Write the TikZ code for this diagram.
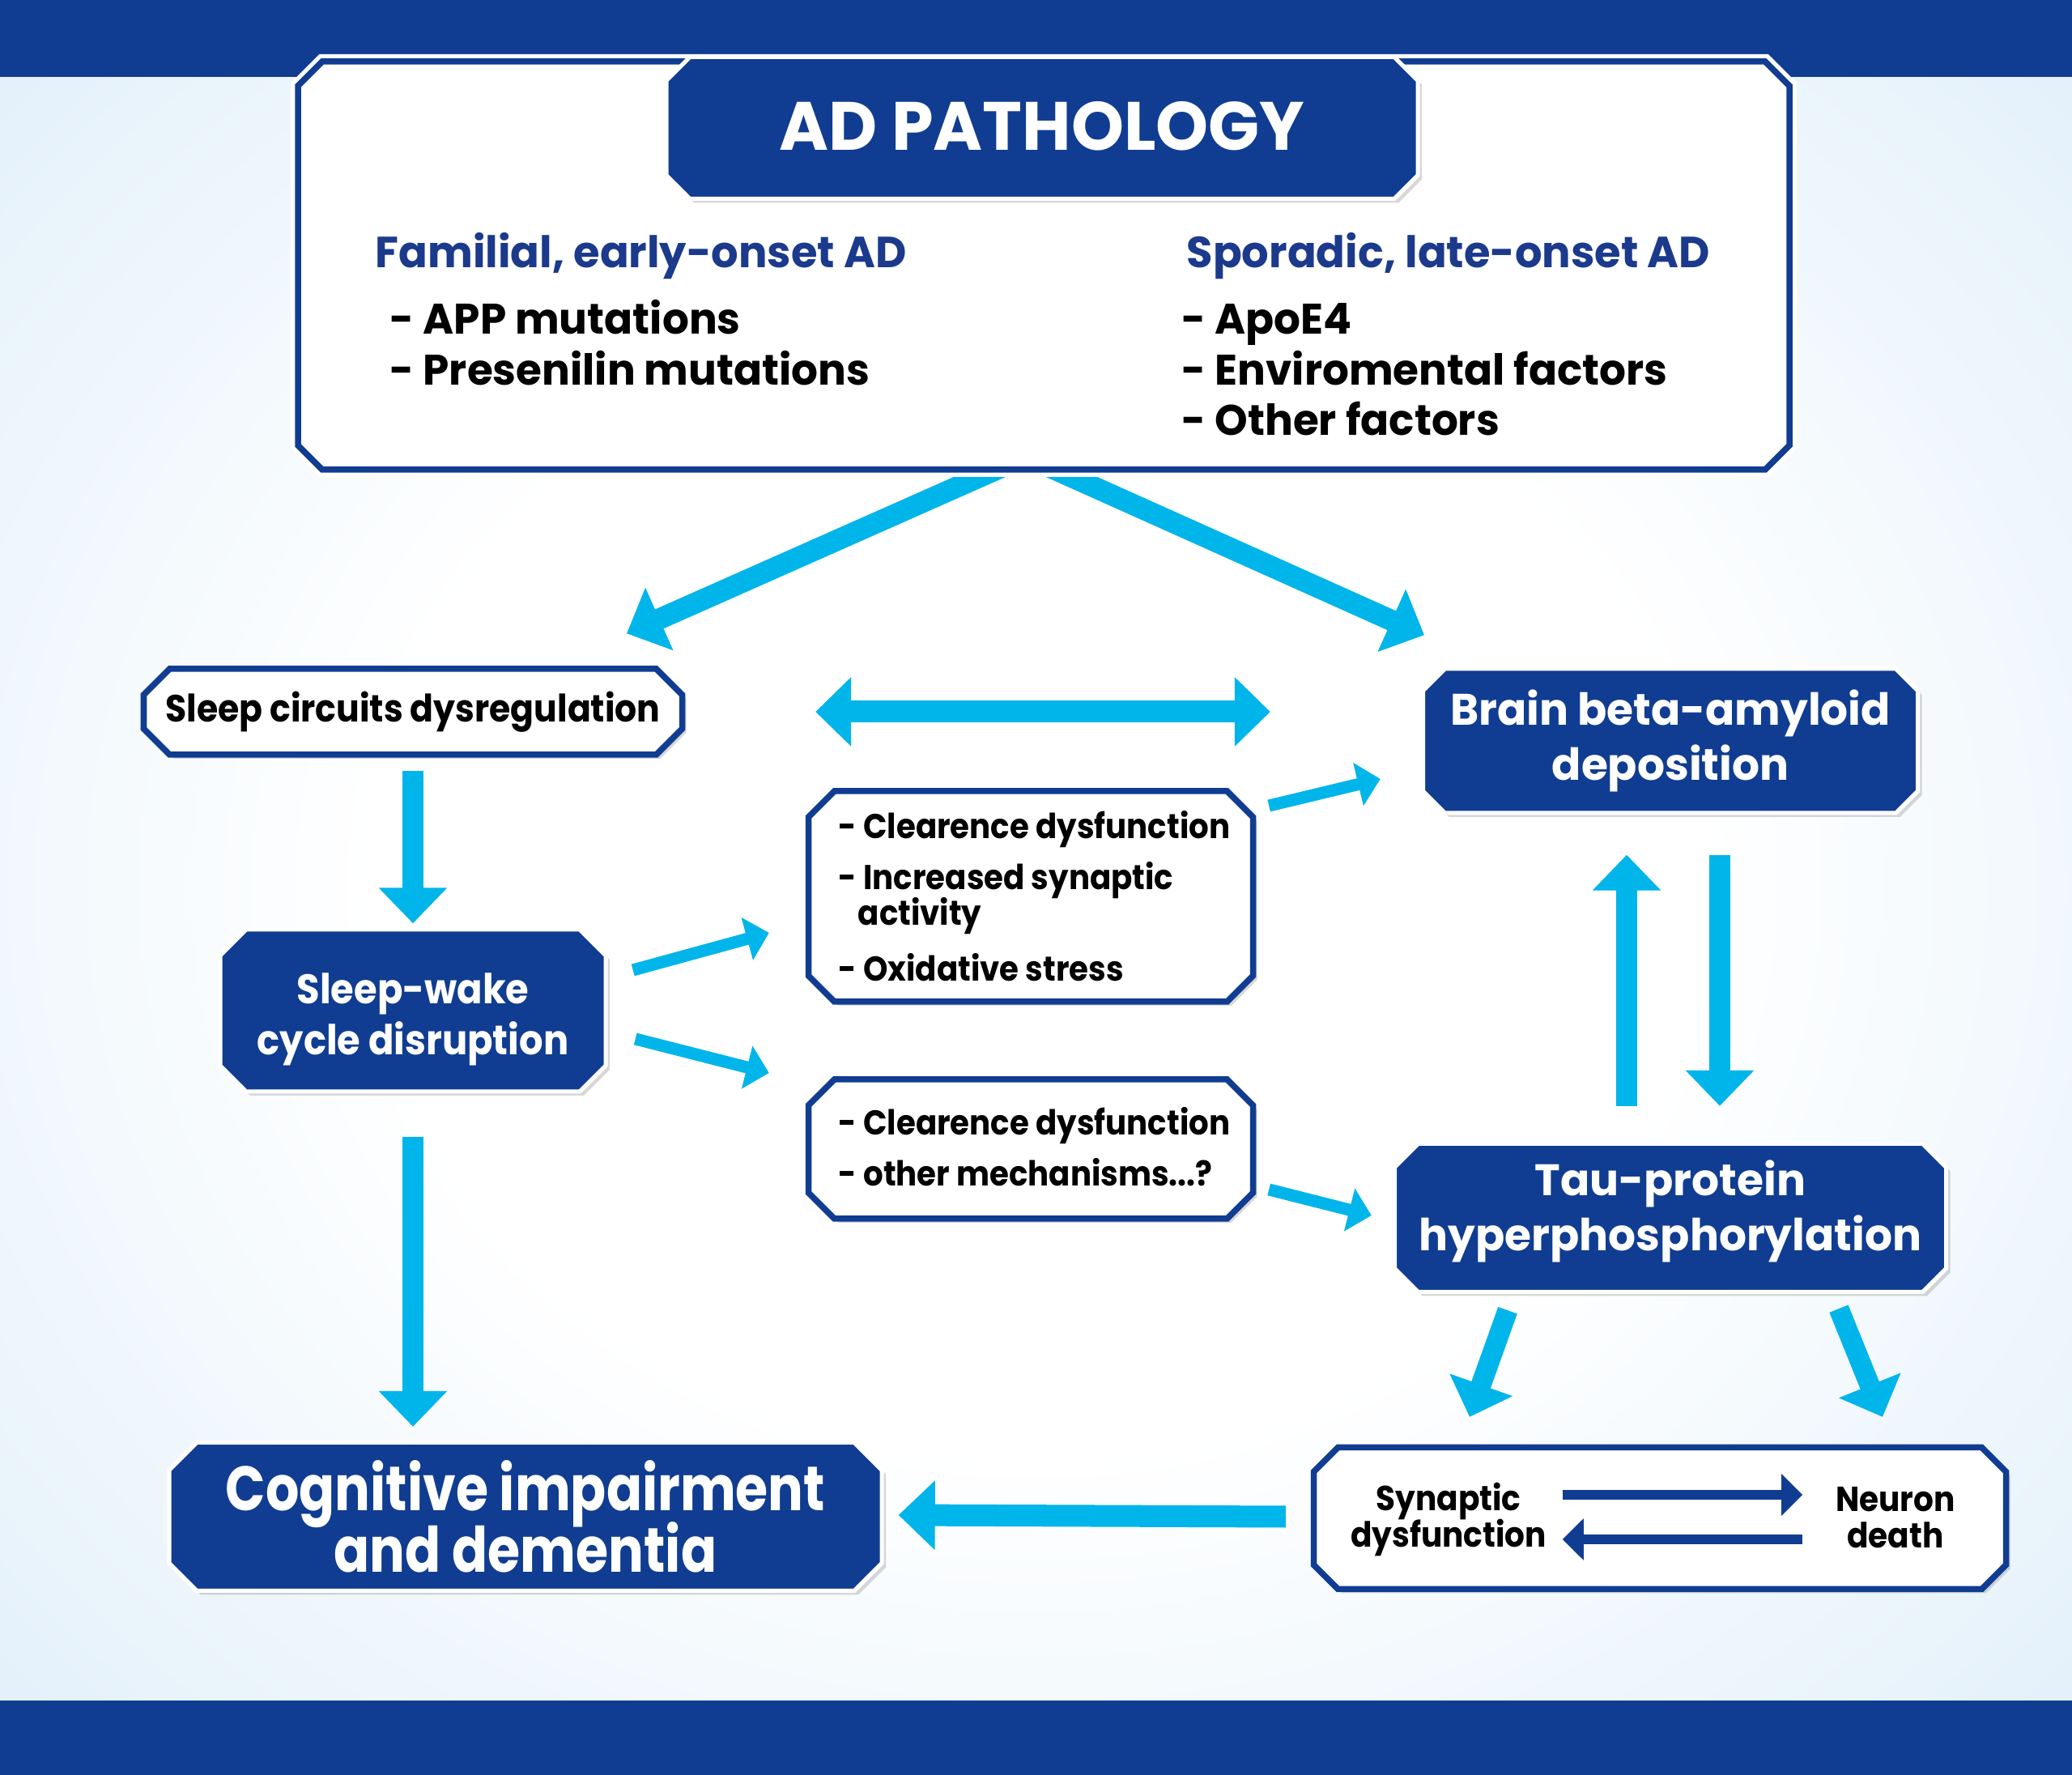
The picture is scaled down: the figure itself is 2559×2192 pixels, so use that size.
\documentclass[tikz,border=0pt]{standalone}
\usepackage{fontspec}
\newfontfamily\pfW{Poppins}[FakeStretch=0.98]
\newfontfamily\pfM{Poppins}[FakeStretch=0.91]
\newfontfamily\pfN{Poppins}[FakeStretch=0.84]
\usetikzlibrary{arrows.meta,shadows,calc}
\definecolor{dblue}{HTML}{103D91}
\definecolor{lblue}{HTML}{00B5EA}
\definecolor{bgl}{HTML}{CBE4F6}
\definecolor{bgl2}{HTML}{C0DCF2}
\definecolor{hblue}{HTML}{1B3A8C}
\pgfdeclareradialshading{bgshade}{\pgfpoint{0bp}{0bp}}{color(0bp)=(white); color(16bp)=(white); color(50bp)=(bgl); color(72bp)=(bgl2)}
\pgfdeclarelayer{bglayer}
\pgfdeclarelayer{arrlayer}
\pgfsetlayers{bglayer,arrlayer,main}
\newcommand\fs[2]{\fontsize{#1}{#2}\selectfont\lineskiplimit=-50pt\relax}
\tikzset{
  shad/.style={drop shadow={shadow xshift=0.05cm, shadow yshift=-0.05cm, opacity=0.3}},
  bluepath/.style={shad, fill=dblue, draw=white, line width=0.05cm},
  whitepath/.style={shad, fill=white, draw=dblue, line width=0.075cm},
  boxnode/.style={inner sep=0pt, align=center},
  bigarrow/.style={draw=lblue, line width=0.26cm, -{Triangle[width=0.82cm,length=0.44cm]}},
  bigdouble/.style={draw=lblue, line width=0.27cm, {Triangle[width=0.83cm,length=0.44cm]}-{Triangle[width=0.83cm,length=0.44cm]}},
  leftarrow/.style={draw=lblue, line width=0.27cm, -{Triangle[width=0.83cm,length=0.45cm]}},
  midarrow/.style={draw=lblue, line width=0.25cm, -{Triangle[width=0.80cm,length=0.42cm]}},
  smallarrow/.style={draw=lblue, line width=0.15cm, -{Triangle[width=0.53cm,length=0.28cm]}},
  darkarrow/.style={draw=dblue, line width=0.12cm, -{Triangle[width=0.5cm,length=0.26cm]}},
  txt/.style={inner sep=0pt, anchor=base west},
  ftitle/.style={font={\pfW\bfseries\fs{24}{28}}, text=white},
  fhdr/.style={font={\pfW\bfseries\fs{15.3}{18}}, text=hblue},
  fbody/.style={font={\pfW\bfseries\fs{15}{18}}},
  fcirc/.style={font={\pfM\bfseries\fs{13.3}{16}}},
  fwake/.style={font={\pfM\bfseries\fs{14.5}{18}}, text=white},
  fblue/.style={font={\pfW\bfseries\fs{15.5}{19.5}}, text=white},
  fcog/.style={font={\pfN\bfseries\fs{22}{21.6}}, text=white},
  fmid/.style={font={\pfM\bfseries\fs{12.1}{14}}},
  fsmall/.style={font={\pfM\bfseries\fs{12.2}{12.8}}},
}
% #1 path style, #2 node style, #3 name, #4 cx, #5 cy, #6 width, #7 height, #8 chamfer, #9 text
\newcommand\cbox[9]{%
  \path[#1] ({#4-#6/2+#8},{#5-#7/2}) -- ({#4+#6/2-#8},{#5-#7/2}) -- ({#4+#6/2},{#5-#7/2+#8})
    -- ({#4+#6/2},{#5+#7/2-#8}) -- ({#4+#6/2-#8},{#5+#7/2}) -- ({#4-#6/2+#8},{#5+#7/2})
    -- ({#4-#6/2},{#5+#7/2-#8}) -- ({#4-#6/2},{#5-#7/2+#8}) -- cycle;
  \node[boxnode, minimum width={#6*0.01cm}, minimum height={#7*0.01cm}, #2] (#3) at (#4,#5) {#9};
}
\begin{document}
\begin{tikzpicture}[x=0.01cm,y=-0.01cm]
\useasboundingbox (0,0) rectangle (2559,2192);
\begin{pgfonlayer}{bglayer}
\fill[shading=bgshade] (0,0) rectangle (2559,2192);
\fill[dblue] (0,0) rectangle (2559,95);
\fill[dblue] (0,2100) rectangle (2559,2192);
\end{pgfonlayer}

% boxes
\cbox{whitepath, preaction={draw=white, line width=0.18cm}}{}{topbox}{1289}{328}{1842}{504}{30}{}
\cbox{bluepath}{ftitle, yshift=0.02cm}{title}{1287}{158}{928}{175}{29}{AD PATHOLOGY}

\node[txt, fhdr] (famh) at (463,331) {Familial, early-onset AD};
\node[txt, fbody] (f1) at (481,413) {- APP mutations};
\node[txt, fbody] (f2) at (481,476) {- Presenilin mutations};
\node[txt, fhdr] (spoh) at (1465,331) {Sporadic, late-onset AD};
\node[txt, fbody] (s1) at (1459,413) {- ApoE4};
\node[txt, fbody] (s2) at (1459,476) {- Enviromental factors};
\node[txt, fbody] (s3) at (1459,538) {- Other factors};

\cbox{whitepath}{fcirc}{sleepcirc}{510}{879}{665}{106}{32}{Sleep circuits dysregulation}
\cbox{bluepath}{fwake, yshift=-0.11cm}{sleepwake}{510}{1248}{476}{200}{32}{Sleep-wake\\cycle disruption}
\cbox{bluepath}{fblue}{brain}{2063}{915}{611}{178}{27}{Brain beta-amyloid\\deposition}
\cbox{whitepath}{}{mid1}{1273}{1107}{549}{260}{32}{}
\cbox{whitepath}{}{mid2}{1273}{1419}{549}{172}{32}{}
\cbox{bluepath}{fblue, yshift=0.08cm}{tau}{2063}{1504}{681}{183}{29}{Tau-protein\\hyperphosphorylation}
\cbox{bluepath}{fcog}{cog}{649}{1873}{880}{183}{34}{Cognitive impairment\\and dementia}
\cbox{whitepath}{}{botright}{2050}{1875}{855}{175}{30}{}

\node[txt, fmid] (m1a) at (1035,1036) {- Clearence dysfunction};
\node[txt, fmid] (m1b) at (1035,1099) {- Increased synaptic};
\node[txt, fmid] (m1c) at (1059,1143) {activity};
\node[txt, fmid] (m1d) at (1035,1212) {- Oxidative stress};
\node[txt, fmid] (m2a) at (1035,1402) {- Clearence dysfunction};
\node[txt, fmid] (m2b) at (1035,1465) {- other mechanisms...?};

\node[fsmall, align=center, inner sep=0pt] (syn) at (1789,1877) {Synaptic\\dysfunction};
\node[fsmall, align=center, inner sep=0pt] (neu) at (2341,1874) {Neuron\\death};

% arrows
\begin{pgfonlayer}{arrlayer}
\draw[bigarrow] ($(topbox.south)+(-22,-17)$) -- ($(sleepcirc.north)+(264,-43)$);
\draw[bigarrow] ($(topbox.south)+(-22,-17)$) -- ($(brain.north)+(-304,-41)$);
\draw[bigdouble] ($(sleepcirc.east)+(164,0)$) -- ($(brain.west)+(-188,-36)$);
\draw[bigarrow] ([yshift=-0.19cm]sleepcirc.south) -- ([yshift=0.18cm]sleepwake.north);
\draw[bigarrow] ([yshift=-0.44cm]sleepwake.south) -- ($(sleepwake.south |- cog.north)+(0,-19)$);
\draw[smallarrow] ($(sleepwake.east)+(33,-61)$) -- ($(mid1.west)+(-48,45)$);
\draw[smallarrow] ($(sleepwake.east)+(36,24)$) -- ($(mid2.west)+(-48,-94)$);
\draw[smallarrow] ($(mid1.east)+(19,-112)$) -- ($(brain.west)+(-52,47)$);
\draw[smallarrow] ($(mid2.east)+(19,50)$) -- ($(tau.west)+(-28,5)$);
\draw[bigarrow] ($(tau.north)+(-54,-38)$) -- ($(brain.south)+(-54,51)$);
\draw[bigarrow] ($(brain.south)+(61,51)$) -- ($(tau.north)+(61,-38)$);
\draw[midarrow] ($(tau.south)+(-201,30)$) -- ($(botright.north)+(-235,-37)$);
\draw[midarrow] ($(tau.south)+(208,28)$) -- ($(botright.north)+(275,-37)$);
\draw[leftarrow] ($(botright.west)+(-34,-2)$) -- ($(cog.east)+(20,-2)$);
\end{pgfonlayer}
\draw[darkarrow] ($(botright.west)+(308,-29)$) -- ($(botright.east)+(-252,-29)$);
\draw[darkarrow] ($(botright.east)+(-252,26)$) -- ($(botright.west)+(308,26)$);
\end{tikzpicture}
\end{document}
